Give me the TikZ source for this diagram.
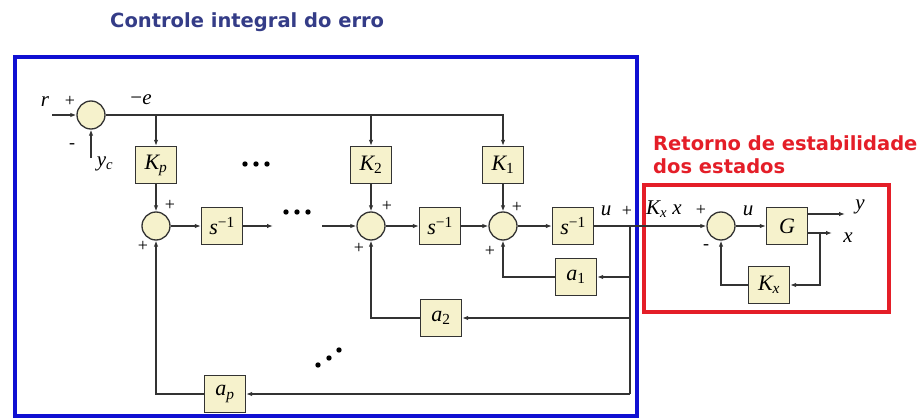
\documentclass[tikz,border=0pt]{standalone}
\usepackage{fontspec}
\setmainfont{Liberation Serif}
\newfontfamily\headfont{DejaVu Sans}
\usetikzlibrary{arrows.meta}
\definecolor{boxfill}{RGB}{246,242,204}
\definecolor{titleblue}{RGB}{52,60,135}
\definecolor{frameblue}{RGB}{16,16,210}
\definecolor{framered}{RGB}{228,30,40}
\tikzset{
  blk/.style={draw=black!80,fill=boxfill,line width=1.3pt,minimum width=41pt,minimum height=37pt,inner sep=0pt,font=\fontsize{22}{24}\selectfont\itshape},
  sum/.style={circle,draw=black!80,fill=boxfill,line width=1.3pt,minimum size=28pt,inner sep=0pt},
  lbl/.style={inner sep=0pt,font=\fontsize{21}{22}\selectfont\itshape},
  sgn/.style={inner sep=0pt,font=\fontsize{18}{18}\selectfont},
  arr/.style={-{Latex[length=6pt,width=4.5pt]}},
  wire/.style={draw=black!80,line width=1.3pt},
  head/.style={inner sep=0pt,anchor=base west,font=\headfont\bfseries\fontsize{19.5}{23}\selectfont}
}
\begin{document}
\begin{tikzpicture}[x=1pt,y=-1pt]
\useasboundingbox (0,0) rectangle (924,420);
\node[head,text=titleblue] (title) at (110,28) {Controle integral do erro};
\node[head,text=framered,align=left] (rettitle) at (653,173) {Retorno de estabilidade\\dos estados};
\draw[frameblue,line width=3.5pt] (15,57) rectangle (637,416);
\draw[framered,line width=3.5pt] (644,185) rectangle (889,312);

% integral part
\node[sum] (sum0) at (91,115) {};
\node[blk] (Kp) at (156,165) {K\textsubscript{p}};
\node[blk] (K2) at (371,165) {K\textsubscript{\upshape 2}};
\node[blk] (K1) at (503,165) {K\textsubscript{\upshape 1}};
\node[sum] (sump) at (156,226) {};
\node[sum] (sum2) at (371,226) {};
\node[sum] (sum1) at (503,226) {};
\node[blk] (intp) at (222,226) {s\textsuperscript{\upshape −1}};
\node[blk] (int2) at (440,226) {s\textsuperscript{\upshape −1}};
\node[blk] (int1) at (573,226) {s\textsuperscript{\upshape −1}};
\node[blk] (a1) at (576,277) {a\textsubscript{\upshape 1}};
\node[blk] (a2) at (441,318) {a\textsubscript{\upshape 2}};
\node[blk] (ap) at (225,394) {a\textsubscript{p}};
\coordinate (rin) at (52,115);
\coordinate (ycin) at (91,158);
\coordinate (dotsout) at (273,226);
\coordinate (dotsin) at (322,226);
\coordinate (utap) at (630,226);
\coordinate (ptap) at (630,394);

% state feedback part
\node[sum] (sumx) at (721,226) {};
\node[blk] (G) at (787,226) {G};
\node[blk] (Kxb) at (769,285) {K\textsubscript{x}};
\coordinate (yout) at (845,214);
\coordinate (xout) at (832,233);
\coordinate (xtap) at (820,233);

\draw[wire,arr] (rin) -- (sum0);
\draw[wire,arr] (ycin) -- (sum0);
\draw[wire,arr] (sum0) -- (K1 |- sum0) -- (K1);
\draw[wire,arr] (Kp |- sum0) -- (Kp);
\draw[wire,arr] (K2 |- sum0) -- (K2);
\draw[wire,arr] (Kp) -- (sump);
\draw[wire,arr] (K2) -- (sum2);
\draw[wire,arr] (K1) -- (sum1);
\draw[wire,arr] (sump) -- (intp);
\draw[wire,arr] (intp) -- (dotsout);
\draw[wire,arr] (dotsin) -- (sum2);
\draw[wire,arr] (sum2) -- (int2);
\draw[wire,arr] (int2) -- (sum1);
\draw[wire,arr] (sum1) -- (int1);
\draw[wire,arr] (int1) -- (sumx);
\draw[wire] (utap) -- (ptap);
\draw[wire,arr] (utap |- a1) -- (a1);
\draw[wire,arr] (a1) -| (sum1);
\draw[wire,arr] (utap |- a2) -- (a2);
\draw[wire,arr] (a2) -| (sum2);
\draw[wire,arr] (ptap) -- (ap);
\draw[wire,arr] (ap) -| (sump);
\draw[wire,arr] (sumx) -- (G);
\draw[wire,arr] (G.east |- yout) -- (yout);
\draw[wire,arr] (G.east |- xout) -- (xout);
\draw[wire,arr] (xtap) |- (Kxb);
\draw[wire,arr] (Kxb) -| (sumx);

% labels
\node[lbl] (rlbl) at (45,102) {r};
\node[sgn] (rplus) at (70,101) {+};
\node[sgn] (ycminus) at (72,146) {-};
\node[lbl] (yclbl) at (105,164) {y\textsubscript{c}};
\node[lbl] (elbl) at (141,100) {{\upshape −}e};
\node[sgn] (psplus) at (170,205) {+};
\node[sgn] (pwplus) at (143,246) {+};
\node[sgn] (twoplus) at (387,206) {+};
\node[sgn] (twowplus) at (359,248) {+};
\node[sgn] (oneplus) at (517,207) {+};
\node[sgn] (onewplus) at (490,251) {+};
\node[lbl] (ulbl) at (606,211) {u};
\node[sgn] (uplus) at (627,211) {+};
\node[lbl] (kxlbl) at (664,209) {K\textsubscript{x} x};
\node[sgn] (xplus) at (701,210) {+};
\node[sgn] (xminus) at (706,247) {-};
\node[lbl] (uxlbl) at (748,211) {u};
\node[lbl] (ylbl) at (860,207) {y};
\node[lbl] (xlbl) at (848,238) {x};

% dots
\fill (245,164) circle (2.7pt) (256,164) circle (2.7pt) (267,164) circle (2.7pt);
\fill (286,212) circle (2.7pt) (297,212) circle (2.7pt) (308,212) circle (2.7pt);
\fill (318,365) circle (2.7pt) (329,358) circle (2.7pt) (339,350) circle (2.7pt);
\end{tikzpicture}
\end{document}
